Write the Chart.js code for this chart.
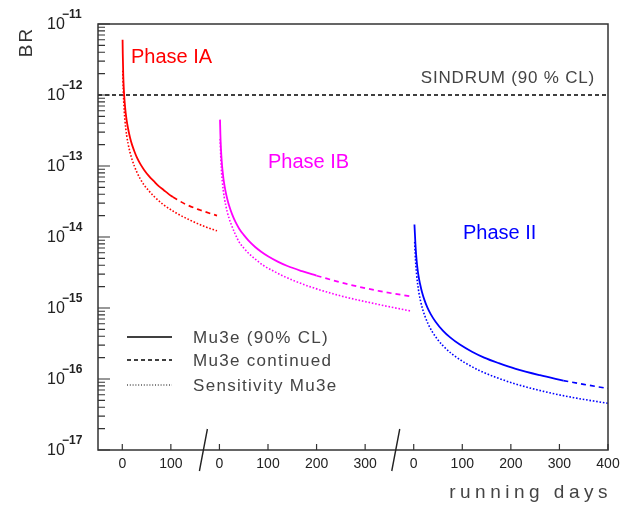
<!DOCTYPE html>
<html>
<head>
<meta charset="utf-8">
<script src="https://cdn.jsdelivr.net/npm/chart.js@4.4.0/dist/chart.umd.min.js"></script>
<style>
  html, body { margin: 0; padding: 0; background: #fff; }
  #wrap { width: 623px; height: 509px; }
</style>
</head>
<body>
<div id="wrap"><canvas id="brChart"></canvas></div>
<script>
// each phase restarts its running-day count; phases sit side by side on one axis
var phaseNames = ['Phase IA', 'Phase IB', 'Phase II'];
var phaseColors = ['#ff0000', '#ff00ff', '#0000ff'];
var phaseStart = [0, 200, 600];
var solidUntil = [104, 200, 308]; // after this day the limit is drawn dashed

// Phase IA
var iaDays  = [0.6, 1, 2, 3, 4, 5.5, 7, 9, 12, 16, 20, 25, 30, 37, 45, 55, 65, 75, 85, 95, 104, 130, 160, 195];
var iaLimit = [6.0e-12, 3.8e-12, 1.9e-12, 1.28e-12, 9.6e-13, 7.1e-13, 5.6e-13, 4.4e-13, 3.35e-13, 2.5e-13, 2.0e-13, 1.6e-13,
               1.32e-13, 1.07e-13, 8.8e-14, 7.2e-14, 6.1e-14, 5.2e-14, 4.6e-14, 4.05e-14, 3.65e-14, 2.9e-14, 2.4e-14, 2.0e-14];
var iaSensDays = [1, 2, 3, 4, 5.5, 7, 9, 12, 16, 20, 25, 30, 37, 45, 55, 65, 85, 110, 140, 170, 195];
var iaSens     = [2.2e-12, 1.2e-12, 8.0e-13, 6.0e-13, 4.4e-13, 3.45e-13, 2.7e-13, 2.05e-13, 1.55e-13, 1.24e-13, 9.9e-14,
                  8.2e-14, 6.6e-14, 5.4e-14, 4.45e-14, 3.75e-14, 2.85e-14, 2.2e-14, 1.72e-14, 1.4e-14, 1.22e-14];

// Phase IB
var ibDays  = [1.2, 2, 3, 4, 5.5, 7, 9, 12, 16, 20, 26, 33, 41, 50, 60, 73, 86, 100, 120, 140, 170, 200, 260, 330, 398];
var ibLimit = [4.5e-13, 2.75e-13, 1.83e-13, 1.38e-13, 1.0e-13, 7.9e-14, 6.1e-14, 4.6e-14, 3.45e-14, 2.75e-14, 2.1e-14,
               1.63e-14, 1.3e-14, 1.07e-14, 8.9e-15, 7.3e-15, 6.2e-15, 5.35e-15, 4.5e-15, 3.9e-15, 3.3e-15, 2.85e-15,
               2.2e-15, 1.73e-15, 1.44e-15];
var ibSensDays = [1.5, 3, 4.5, 6, 8, 10, 13, 16, 20, 25, 32, 40, 50, 60, 75, 90, 110, 130, 155, 186, 250, 320, 396];
var ibSens     = [2.4e-13, 1.2e-13, 8.0e-14, 6.0e-14, 4.5e-14, 3.6e-14, 2.8e-14, 2.27e-14, 1.82e-14, 1.46e-14, 1.12e-14,
                  8.6e-15, 7.0e-15, 5.9e-15, 4.8e-15, 4.0e-15, 3.35e-15, 2.85e-15, 2.4e-15, 2.0e-15, 1.48e-15, 1.15e-15, 9.0e-16];

// Phase II
var iiDays  = [1.5, 2.5, 3.5, 5, 7, 10, 13, 17, 22, 28, 35, 45, 60, 75, 95, 120, 145, 175, 210, 260, 308, 350, 400];
var iiLimit = [1.5e-14, 1.1e-14, 8.0e-15, 5.6e-15, 4.0e-15, 2.8e-15, 2.2e-15, 1.68e-15, 1.3e-15, 1.02e-15, 8.2e-16,
               6.4e-16, 4.8e-16, 3.85e-16, 3.05e-16, 2.42e-16, 2.0e-16, 1.67e-16, 1.39e-16, 1.13e-16, 9.5e-17, 8.4e-17, 7.35e-17];
var iiSensDays = [2, 3, 4.5, 6, 8, 11, 14, 18, 23, 30, 38, 48, 60, 80, 105, 135, 170, 210, 267, 330, 400];
var iiSens     = [8.5e-15, 5.8e-15, 3.9e-15, 2.95e-15, 2.2e-15, 1.6e-15, 1.26e-15, 9.8e-16, 7.7e-16, 5.9e-16, 4.65e-16,
                  3.7e-16, 2.95e-16, 2.22e-16, 1.7e-16, 1.32e-16, 1.05e-16, 8.5e-17, 6.7e-17, 5.45e-17, 4.55e-17];

var sindrumLimit = 1e-12;

var xTickPos    = [0, 100, 200, 300, 400, 500, 600, 700, 800, 900, 1000];
var xTickLabels = ['0', '100', '0', '100', '200', '300', '0', '100', '200', '300', '400'];
var yDecades    = [-17, -16, -15, -14, -13, -12, -11];
var axisBreaks  = [167, 563];

var legendLabels = ['Mu3e (90% CL)', 'Mu3e continued', 'Sensitivity Mu3e'];

var FONT = '"Liberation Sans", Arial, Helvetica, sans-serif';

function points(days, vals, start, from, to) {
  var out = [];
  for (var i = 0; i < days.length; i++) {
    if (days[i] >= from && days[i] <= to) out.push({ x: start + days[i], y: vals[i] });
  }
  return out;
}

var limits = [[iaDays, iaLimit], [ibDays, ibLimit], [iiDays, iiLimit]];
var sens = [[iaSensDays, iaSens], [ibSensDays, ibSens], [iiSensDays, iiSens]];

var datasets = [];
for (var p = 0; p < 3; p++) {
  var col = phaseColors[p];
  datasets.push({
    label: phaseNames[p] + ' limit',
    data: points(limits[p][0], limits[p][1], phaseStart[p], 0, solidUntil[p]),
    borderColor: col, borderWidth: 1.8
  });
  datasets.push({
    label: phaseNames[p] + ' continued',
    data: points(limits[p][0], limits[p][1], phaseStart[p], solidUntil[p], 1e9),
    borderColor: col, borderWidth: 1.7, borderDash: [5, 4]
  });
  datasets.push({
    label: phaseNames[p] + ' sensitivity',
    data: points(sens[p][0], sens[p][1], phaseStart[p], 0, 1e9),
    borderColor: col, borderWidth: 1.6, borderDash: [1.6, 1.8]
  });
}
datasets.push({
  label: 'SINDRUM',
  data: [{ x: -50, y: sindrumLimit }, { x: 1000, y: sindrumLimit }],
  borderColor: '#000', borderWidth: 1.3, borderDash: [4, 3]
});

// frame, inward ticks, superscript labels, axis breaks, annotations, legend
var decorations = {
  id: 'decorations',
  afterDatasetsDraw: function (chart) {
    var ctx = chart.ctx, a = chart.chartArea;
    var xs = chart.scales.x, ys = chart.scales.y;
    ctx.save();

    ctx.strokeStyle = '#333';
    ctx.lineWidth = 1.5;
    ctx.strokeRect(a.left, a.top, a.right - a.left, a.bottom - a.top);

    // y ticks: decades and 2..9 in between
    ctx.lineWidth = 1.2;
    ctx.beginPath();
    for (var i = 0; i < yDecades.length; i++) {
      var d = yDecades[i];
      var yp = ys.getPixelForValue(Math.pow(10, d));
      ctx.moveTo(a.left, yp); ctx.lineTo(a.left + 12, yp);
      if (i < yDecades.length - 1) {
        for (var m = 2; m <= 9; m++) {
          var ym = ys.getPixelForValue(m * Math.pow(10, d));
          ctx.moveTo(a.left, ym); ctx.lineTo(a.left + 7, ym);
        }
      }
    }
    // x ticks
    for (var j = 0; j < xTickPos.length; j++) {
      var xp = xs.getPixelForValue(xTickPos[j]);
      ctx.moveTo(xp, a.bottom); ctx.lineTo(xp, a.bottom - 6);
    }
    ctx.stroke();

    // y labels 10^n
    ctx.fillStyle = '#222';
    ctx.textBaseline = 'middle';
    for (var k = 0; k < yDecades.length; k++) {
      var yl = ys.getPixelForValue(Math.pow(10, yDecades[k]));
      ctx.textAlign = 'left';
      ctx.font = '16px ' + FONT;
      ctx.fillText('10', 47, yl + 1);
      ctx.font = 'bold 12px ' + FONT;
      ctx.fillText('\u2212' + (-yDecades[k]), 62, yl - 9);
    }

    // x labels
    ctx.font = '14px ' + FONT;
    ctx.textAlign = 'center';
    for (var n = 0; n < xTickPos.length; n++) {
      ctx.fillText(xTickLabels[n], xs.getPixelForValue(xTickPos[n]), a.bottom + 14);
    }

    // axis breaks
    ctx.strokeStyle = '#222';
    ctx.lineWidth = 1.4;
    ctx.beginPath();
    axisBreaks.forEach(function (b) {
      var bx = xs.getPixelForValue(b);
      ctx.moveTo(bx - 4, a.bottom + 21); ctx.lineTo(bx + 4, a.bottom - 21);
    });
    ctx.stroke();

    // axis titles
    ctx.fillStyle = '#444';
    ctx.font = '19px ' + FONT;
    ctx.letterSpacing = '4.5px';
    ctx.textAlign = 'right';
    ctx.textBaseline = 'alphabetic';
    ctx.fillText('running days', 612, 498);
    ctx.save();
    ctx.translate(32, 42);
    ctx.rotate(-Math.PI / 2);
    ctx.textAlign = 'center';
    ctx.letterSpacing = '2px';
    ctx.fillStyle = '#333';
    ctx.fillText('BR', 0, 0);
    ctx.restore();
    ctx.letterSpacing = '0px';

    // phase names
    ctx.font = '20px ' + FONT;
    ctx.textAlign = 'left';
    var namePos = [[131, 63], [268, 168], [463, 239]];
    for (var q = 0; q < 3; q++) {
      ctx.fillStyle = phaseColors[q];
      ctx.fillText(phaseNames[q], namePos[q][0], namePos[q][1]);
    }

    ctx.fillStyle = '#444';
    ctx.font = '17px ' + FONT;
    ctx.letterSpacing = '0.8px';
    ctx.textAlign = 'right';
    ctx.fillText('SINDRUM (90 % CL)', 595, 83);

    // legend
    var rows = [337, 360, 385];
    var dashes = [[], [4, 3], [1, 1.8]];
    ctx.strokeStyle = '#000';
    for (var r = 0; r < 3; r++) {
      ctx.lineWidth = r === 2 ? 1 : 1.3;
      ctx.setLineDash(dashes[r]);
      ctx.beginPath();
      ctx.moveTo(127, rows[r]); ctx.lineTo(172, rows[r]);
      ctx.stroke();
    }
    ctx.setLineDash([]);
    ctx.font = '17px ' + FONT;
    ctx.letterSpacing = '1.3px';
    ctx.textAlign = 'left';
    ctx.textBaseline = 'middle';
    ctx.fillStyle = '#444';
    for (var s = 0; s < 3; s++) {
      ctx.fillText(legendLabels[s], 193, rows[s] + 1);
    }
    ctx.restore();
  }
};

new Chart(document.getElementById('brChart'), {
  type: 'line',
  data: { datasets: datasets },
  options: {
    responsive: true,
    maintainAspectRatio: false,
    animation: false,
    layout: { padding: { left: 98, right: 15, top: 24, bottom: 59 } },
    elements: {
      point: { radius: 0 },
      line: { cubicInterpolationMode: 'monotone', fill: false }
    },
    plugins: { legend: { display: false }, tooltip: { enabled: false } },
    scales: {
      x: { type: 'linear', min: -50, max: 1000, display: false },
      y: { type: 'logarithmic', min: 1e-17, max: 1e-11, display: false }
    }
  },
  plugins: [decorations]
});
</script>
</body>
</html>
